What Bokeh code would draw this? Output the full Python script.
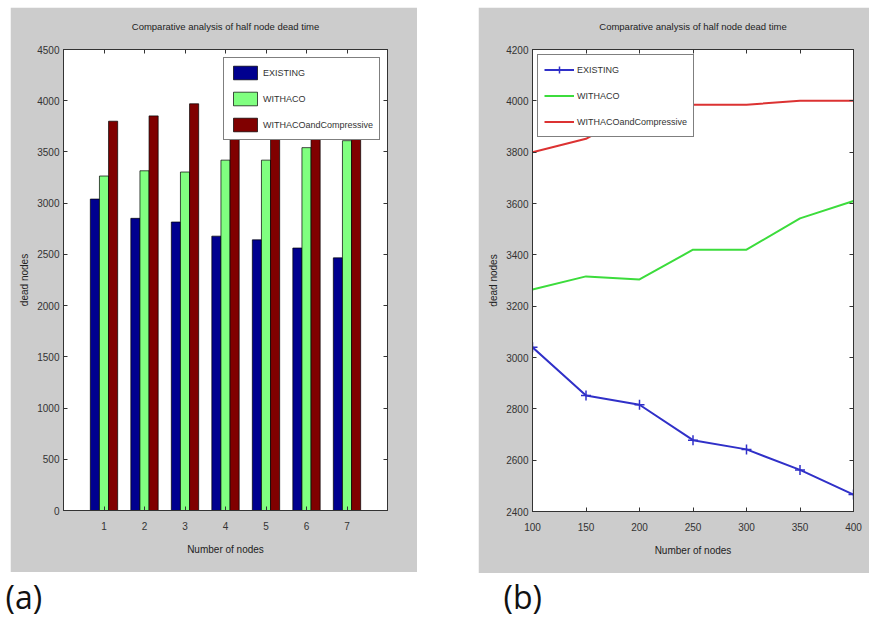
from bokeh.plotting import figure
from bokeh.models import (LinearAxis, FixedTicker, Range1d, Label, Spacer, ColumnDataSource,
                          CustomLabelingPolicy)
from bokeh.layouts import column, row
from bokeh.transform import dodge
from bokeh.embed import file_html
from bokeh.resources import INLINE

# ---------------- data ----------------
groups = [1, 2, 3, 4, 5, 6, 7]
nodes = [100, 150, 200, 250, 300, 350, 400]
existing = [3040, 2852, 2816, 2678, 2642, 2562, 2466]
withaco = [3265, 3316, 3304, 3420, 3420, 3542, 3610]
withaco_comp = [3800, 3852, 3970, 3985, 3985, 4000, 4000]
series_names = ["EXISTING", "WITHACO", "WITHACOandCompressive"]
y_ticks_a = [0, 500, 1000, 1500, 2000, 2500, 3000, 3500, 4000, 4500]
y_ticks_b = [2400, 2600, 2800, 3000, 3200, 3400, 3600, 3800, 4000, 4200]
title_text = "Comparative analysis of half node dead time"
xlabel = "Number of nodes"
ylabel = "dead nodes"

FONT = "Liberation Sans"
GRAY = "#cccccc"
AX = "#333333"

NO_LABELS = "for (const i of indices) { indices.unset(i) }\nreturn indices"


def style_axis(ax, labels=True, hidden_size="10px"):
    ax.major_tick_in = 4
    ax.major_tick_out = 0
    ax.minor_tick_line_color = None
    ax.axis_line_color = AX
    ax.major_tick_line_color = AX
    ax.major_label_text_font = FONT
    ax.major_label_text_color = AX
    ax.axis_label_text_font = FONT
    ax.axis_label_text_font_style = "normal"
    ax.axis_label_text_font_size = "10px"
    ax.axis_label_text_color = "#222222"
    ax.major_label_text_font_size = "10px"
    if not labels:
        ax.major_label_policy = CustomLabelingPolicy(code=NO_LABELS)
        ax.major_label_standoff = 0
        ax.major_label_text_font_size = hidden_size


def style_title(p):
    p.title.text_font = FONT
    p.title.text_font_size = "9.5px"
    p.title.text_font_style = "normal"
    p.title.text_color = "#222222"
    p.title.align = "center"
    p.title.standoff = 14


def style_legend(p, loc):
    lg = p.legend[0]
    lg.location = loc
    lg.border_line_color = "black"
    lg.border_line_width = 1
    lg.background_fill_color = "white"
    lg.background_fill_alpha = 1
    lg.label_text_font = FONT
    lg.label_text_font_size = "9px"
    lg.label_text_color = "#333333"
    lg.glyph_width = 30
    lg.glyph_height = 17
    lg.label_height = 17
    lg.spacing = 9
    lg.padding = 6
    lg.margin = 0
    lg.label_standoff = 3


def finish_axes(p, xt, yt):
    p.xgrid.visible = False
    p.ygrid.visible = False
    p.xaxis.ticker = FixedTicker(ticks=xt)
    p.yaxis.ticker = FixedTicker(ticks=yt)
    p.xaxis.axis_label = xlabel
    p.yaxis.axis_label = ylabel
    top = LinearAxis(ticker=FixedTicker(ticks=xt))
    right = LinearAxis(ticker=FixedTicker(ticks=yt))
    p.add_layout(top, "above")
    p.add_layout(right, "right")
    bx, ly = p.below[0], p.left[0]
    for ax in (bx, ly):
        style_axis(ax)
    style_axis(top, labels=False, hidden_size="10px")
    style_axis(right, labels=False, hidden_size="1px")
    bx.major_label_standoff = 11
    bx.axis_label_standoff = 11
    ly.major_label_standoff = 4
    ly.axis_label_standoff = 4


# ---------------- panel (a) ----------------
src = ColumnDataSource(dict(g=groups, e=existing, w=withaco, c=withaco_comp))
pa = figure(width=407, height=565, x_range=Range1d(0, 8), y_range=Range1d(0, 4500),
            output_backend="svg", toolbar_location=None, title=title_text,
            min_border_left=53, min_border_right=30, min_border_top=42, min_border_bottom=62,
            border_fill_color=GRAY, background_fill_color="white",
            outline_line_color=AX)
bw = 0.225
pa.vbar(x=dodge("g", -bw, range=pa.x_range), top="e", width=bw, source=src,
        fill_color="#00008f", line_color="black", line_width=0.7, legend_label=series_names[0])
pa.vbar(x=dodge("g", 0, range=pa.x_range), top="w", width=bw, source=src,
        fill_color="#80ff80", line_color="black", line_width=0.7, legend_label=series_names[1])
pa.vbar(x=dodge("g", bw, range=pa.x_range), top="c", width=bw, source=src,
        fill_color="#800000", line_color="black", line_width=0.7, legend_label=series_names[2])
finish_axes(pa, groups, y_ticks_a)
style_title(pa)
style_legend(pa, (160, 370))

# ---------------- panel (b) ----------------
pb = figure(width=391, height=566, x_range=Range1d(100, 400), y_range=Range1d(2400, 4200),
            output_backend="svg", toolbar_location=None, title=title_text,
            min_border_left=54, min_border_right=16, min_border_top=40, min_border_bottom=62,
            border_fill_color=GRAY, background_fill_color="white",
            outline_line_color=AX)
pb.line(nodes, existing, line_color="#3030c8", line_width=2, legend_label=series_names[0])
pb.scatter(nodes, existing, marker="cross", size=10, line_color="#3030c8", line_width=1.5,
           legend_label=series_names[0])
pb.line(nodes, withaco, line_color="#3cdc3c", line_width=2, legend_label=series_names[1])
pb.line(nodes, withaco_comp, line_color="#dc3232", line_width=2, legend_label=series_names[2])
finish_axes(pb, nodes, y_ticks_b)
style_title(pb)
style_legend(pb, (5, 374))

# ---------------- panel labels ----------------
pl = figure(width=861, height=46, x_range=Range1d(0, 861), y_range=Range1d(0, 46),
            output_backend="svg", toolbar_location=None,
            min_border=0, outline_line_color=None, background_fill_color="white",
            border_fill_color="white")
pl.axis.visible = False
pl.grid.visible = False
for txt, xpos in (("(a)", 5), ("(b)", 503)):
    pl.add_layout(Label(x=xpos, y=2, x_units="screen", y_units="screen", text=txt,
                        text_font="Open Sans", text_font_size="32px",
                        text_color="#111111", text_baseline="bottom"))

layout = column(Spacer(width=861, height=7),
                row(Spacer(width=10, height=566), pa, Spacer(width=61, height=566), pb),
                pl)
open("out.html", "w").write(file_html(layout, INLINE))
